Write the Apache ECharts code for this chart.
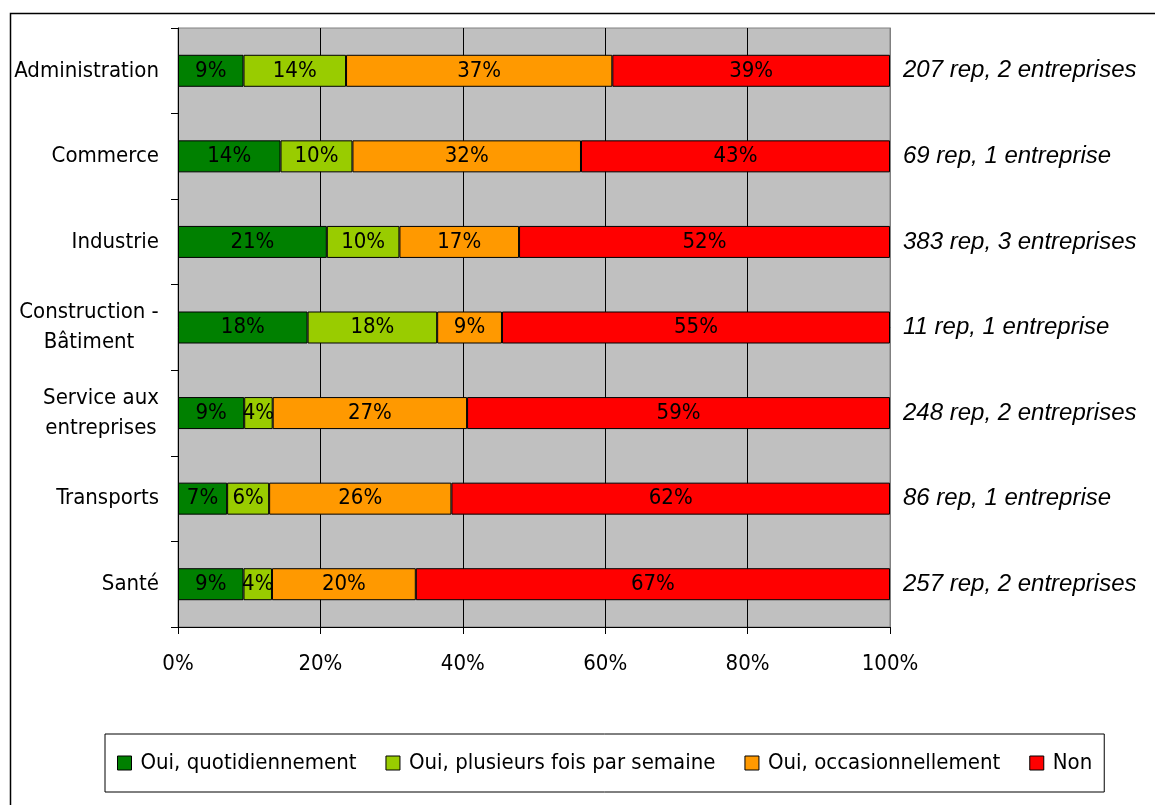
<!DOCTYPE html>
<html>
<head>
<meta charset="utf-8">
<script src="https://cdn.jsdelivr.net/npm/echarts@6/dist/echarts.min.js"></script>
<style>html,body{margin:0;padding:0;background:#fff;}#c{width:1155px;height:805px;}</style>
</head>
<body>
<div id="c"></div>
<script>
const categories = ['Administration', 'Commerce', 'Industrie', 'Construction -\nBâtiment', 'Service aux\nentreprises', 'Transports', 'Santé'];
const annotations = ['207 rep, 2 entreprises', '69 rep, 1 entreprise', '383 rep, 3 entreprises', '11 rep, 1 entreprise', '248 rep, 2 entreprises', '86 rep, 1 entreprise', '257 rep, 2 entreprises'];
const seriesNames = ['Oui, quotidiennement', 'Oui, plusieurs fois par semaine', 'Oui, occasionnellement', 'Non'];
const quotidien   = [9.2, 14.4, 20.9, 18.2, 9.3, 6.9, 9.2];
const plusieurs   = [14.4, 10.1, 10.2, 18.2, 4.0, 5.9, 4.0];
const occasion    = [37.4, 32.1, 16.8, 9.1, 27.3, 25.6, 20.2];
const non         = [39.0, 43.4, 52.1, 54.5, 59.4, 61.6, 66.6];
const xTicks = [0, 20, 40, 60, 80, 100];

const colors = ['#008000', '#99CC00', '#FF9900', '#FF0000'];
const FONT = '"DejaVu Sans Condensed", "DejaVu Sans", sans-serif';
const FS = 22;

const cv = document.createElement('canvas').getContext('2d');
cv.font = FS + 'px ' + FONT;
const rich = {};
const labelFmt = {};
categories.forEach((c, i) => {
  const lines = c.split('\n');
  if (lines.length > 1) {
    const w = Math.ceil(Math.max(...lines.map(l => cv.measureText(l).width)));
    rich['c' + i] = { width: w, align: 'center', fontSize: FS, fontFamily: FONT, color: '#000', lineHeight: 30 };
    labelFmt[c] = lines.map(l => '{c' + i + '|' + l + '}').join('\n');
  }
});

const chart = echarts.init(document.getElementById('c'), null, { renderer: 'canvas' });
const dataSets = [quotidien, plusieurs, occasion, non];
chart.setOption({
  animation: false,
  backgroundColor: '#fff',
  graphic: [{
    type: 'rect', left: 8, top: 11, z: -10, silent: true,
    shape: { width: 1200, height: 900 },
    style: { fill: 'none', stroke: '#000', lineWidth: 1.5 }
  }],
  grid: {
    left: 178, right: 265, top: 28, bottom: 178,
    show: true, backgroundColor: '#C0C0C0', borderColor: '#808080', borderWidth: 1
  },
  legend: {
    data: seriesNames,
    left: 105, top: 734,
    orient: 'horizontal',
    borderColor: '#000', borderWidth: 1,
    padding: [18, 12, 18, 12],
    itemGap: 29,
    itemWidth: 14, itemHeight: 14,
    icon: 'rect',
    itemStyle: { borderColor: '#000', borderWidth: 1 },
    textStyle: { fontSize: FS, fontFamily: FONT, color: '#000', padding: [0, 0, 0, 4] }
  },
  xAxis: {
    type: 'value', min: 0, max: 100, interval: 20,
    axisLine: { show: true, lineStyle: { color: '#000', width: 1 } },
    axisTick: { show: true, length: 7, lineStyle: { color: '#000' } },
    splitLine: { show: true, lineStyle: { color: '#000', width: 1 } },
    axisLabel: { formatter: '{value}%', fontSize: FS, fontFamily: FONT, color: '#000', margin: 26,
      customValues: xTicks }
  },
  yAxis: [{
    type: 'category', inverse: true, data: categories,
    axisLine: { show: true, lineStyle: { color: '#000', width: 1 } },
    axisTick: { show: true, length: 7, lineStyle: { color: '#000' } },
    axisLabel: {
      fontSize: FS, fontFamily: FONT, color: '#000', margin: 19, lineHeight: 30,
      formatter: v => labelFmt[v] || v,
      rich: rich
    }
  }, {
    type: 'category', inverse: true, data: annotations, position: 'right',
    axisLine: { show: true, lineStyle: { color: '#808080', width: 1 } },
    axisTick: { show: false },
    axisLabel: { fontSize: 24, fontFamily: '"Liberation Sans", Arial, sans-serif', fontStyle: 'italic', color: '#000', margin: 13 }
  }],
  series: dataSets.map((d, i) => ({
    name: seriesNames[i],
    type: 'bar',
    stack: 'total',
    yAxisIndex: 0,
    barWidth: 32,
    data: d,
    itemStyle: { color: colors[i], borderColor: '#000', borderWidth: 1 },
    label: {
      show: true, position: 'inside', color: '#000', fontSize: FS, fontFamily: FONT,
      formatter: p => Math.round(p.value) + '%'
    }
  }))
});
</script>
</body>
</html>
